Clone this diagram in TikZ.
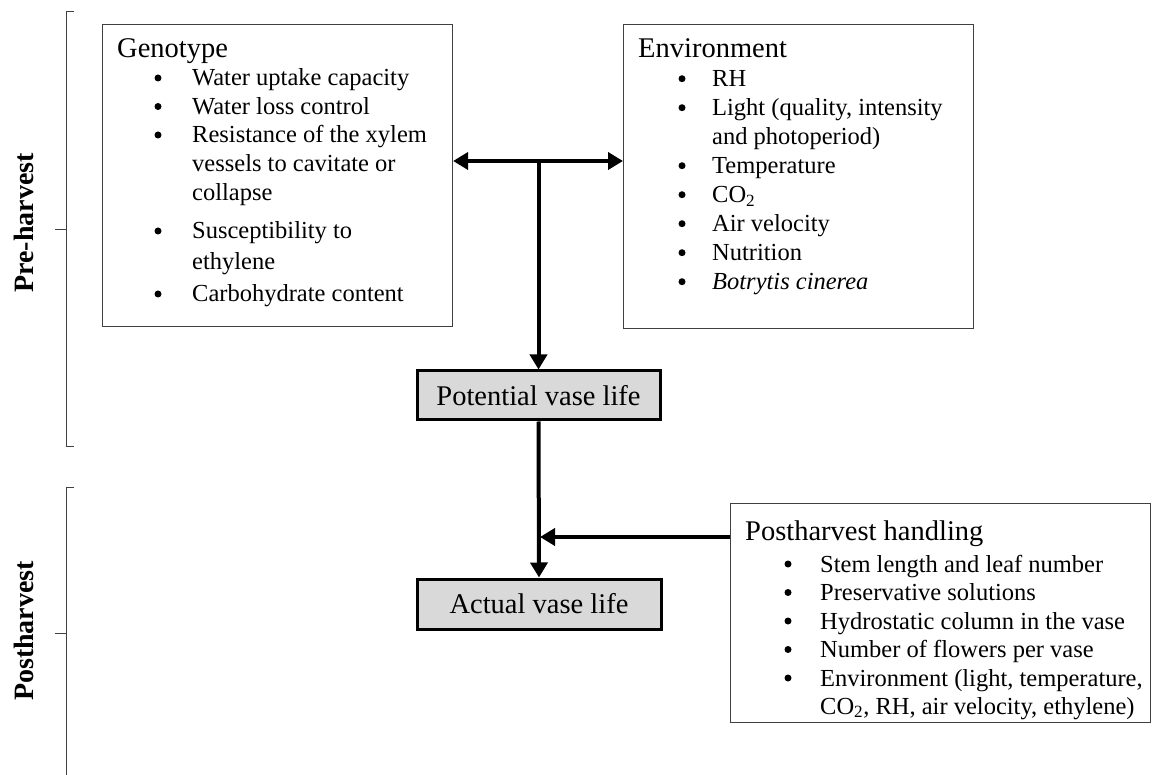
\documentclass[tikz,border=0pt]{standalone}
\usepackage{fontspec}
\setmainfont{Liberation Serif}
\usetikzlibrary{arrows.meta}
\begin{document}
\begin{tikzpicture}[x=1pt,y=-1pt,
  box/.style={draw=black!75, line width=1.1pt, anchor=north west, inner sep=0pt},
  vbox/.style={draw=black, line width=3pt, fill=black!15, inner sep=0pt, font=\fontsize{28.5}{30}\selectfont},
  txt/.style={anchor=base west, inner sep=0pt, font=\fontsize{24.5}{26}\selectfont},
  ttl/.style={anchor=base west, inner sep=0pt, font=\fontsize{28.5}{30}\selectfont},
  bul/.style={circle, fill=black, inner sep=0pt, minimum size=7pt, yshift=8pt},
  arr/.style={line width=4pt, -{Triangle[length=15pt,width=17pt]}},
  dblarr/.style={line width=4pt, {Triangle[length=15pt,width=17pt]}-{Triangle[length=15pt,width=17pt]}},
  brk/.style={draw=black!75, line width=1pt},
  lab/.style={rotate=90, anchor=base, inner sep=0pt, font=\fontsize{28}{30}\selectfont\bfseries}]
\useasboundingbox (0,0) rectangle (1152,775);

% brackets
\draw[brk] (74,12) -- (66,12) -- (66,447) -- (74,447);
\draw[brk] (66,230) -- (55,230);
\draw[brk] (74,488) -- (66,488) -- (66,775);
\draw[brk] (66,633) -- (55,633);
\node[lab] (pre) at (33,223) {Pre-harvest};
\node[lab] (post) at (33,631) {Postharvest};

% boxes
\node[box, minimum width=350pt, minimum height=302pt] (geno) at (102,24) {};
\node[box, minimum width=350pt, minimum height=304pt] (env) at (623,24) {};
\node[box, minimum width=420pt, minimum height=219pt] (ph) at (730,503) {};
\node[vbox, minimum width=243pt, minimum height=49pt] (pot) at (538.5,395.5) {Potential vase life};
\node[vbox, minimum width=244pt, minimum height=50pt] (act) at (539,604) {Actual vase life};

% Genotype text
\node[ttl] (g0) at (117,57.7) {Genotype};
\node[bul] (gb1) at (158,86) {};
\node[txt] (g1) at (192,86) {Water uptake capacity};
\node[bul] (gb2) at (158,114.5) {};
\node[txt] (g2) at (192,114.5) {Water loss control};
\node[bul] (gb3) at (158,143) {};
\node[txt] (g3) at (192,143) {Resistance of the xylem};
\node[txt] (g4) at (192,172) {vessels to cavitate or};
\node[txt] (g5) at (192,201) {collapse};
\node[bul] (gb6) at (158,239) {};
\node[txt] (g6) at (192,239) {Susceptibility to};
\node[txt] (g7) at (192,270) {ethylene};
\node[bul] (gb8) at (158,302) {};
\node[txt] (g8) at (192,302) {Carbohydrate content};

% Environment text
\node[ttl] (e0) at (638,57.7) {Environment};
\node[bul] (eb1) at (682,86.7) {};
\node[txt] (e1) at (712,86.7) {RH};
\node[bul] (eb2) at (682,115.7) {};
\node[txt] (e2) at (712,115.7) {Light (quality, intensity};
\node[txt] (e3) at (712,144.7) {and photoperiod)};
\node[bul] (eb4) at (682,173.7) {};
\node[txt] (e4) at (712,173.7) {Temperature};
\node[bul] (eb5) at (682,202.7) {};
\node[txt] (e5) at (712,202.7) {CO\textsubscript{2}};
\node[bul] (eb6) at (682,231.7) {};
\node[txt] (e6) at (712,231.7) {Air velocity};
\node[bul] (eb7) at (682,260.7) {};
\node[txt] (e7) at (712,260.7) {Nutrition};
\node[bul] (eb8) at (682,289.7) {};
\node[txt] (e8) at (712,289.7) {\itshape Botrytis cinerea};

% Postharvest text
\node[ttl] (p0) at (745,540) {Postharvest handling};
\node[bul] (pb1) at (788,572) {};
\node[txt] (p1) at (820,572) {Stem length and leaf number};
\node[bul] (pb2) at (788,600.5) {};
\node[txt] (p2) at (820,600.5) {Preservative solutions};
\node[bul] (pb3) at (788,629) {};
\node[txt] (p3) at (820,629) {Hydrostatic column in the vase};
\node[bul] (pb4) at (788,657.5) {};
\node[txt] (p4) at (820,657.5) {Number of flowers per vase};
\node[bul] (pb5) at (788,686) {};
\node[txt] (p5) at (820,686) {Environment (light, temperature,};
\node[txt] (p6) at (820,714) {CO\textsubscript{2}, RH, air velocity, ethylene)};

% connectors
\coordinate (dj) at (538.5,161);
\coordinate (mj) at (540,537);
\draw[dblarr] (geno.east |- dj) -- (env.west |- dj);
\draw[arr] ([yshift=-2pt]dj) -- (pot.north);
\draw[arr] (pot.south) -- (act.north);
\draw[arr] (ph.west |- mj) -- (mj);
\end{tikzpicture}
\end{document}
